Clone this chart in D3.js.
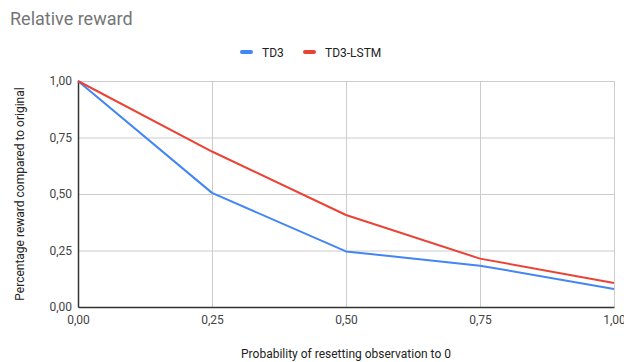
<!DOCTYPE html>
<html lang="en">
<head>
    <meta charset="UTF-8">
    <script src="https://d3js.org/d3.v7.min.js"></script>
    <title>Relative reward</title>
    <style>
      body { margin: 0; background: #fff; }
      text { font-family: Roboto, Arial, sans-serif; }
    </style>
</head>
<body>
    <script>
    // data
    var probs = [0, 0.25, 0.5, 0.75, 1]
    var td3 = [1.00, 0.505, 0.246, 0.183, 0.08]
    var td3lstm = [1.00, 0.688, 0.407, 0.214, 0.106]
    var xTicks = [0, 0.25, 0.5, 0.75, 1]
    var yTicks = [0, 0.25, 0.5, 0.75, 1]
    var seriesNames = ["TD3", "TD3-LSTM"]
    var colors = ["#4285f4", "#ea4335"]

    var width = 624, height = 362
    var margin = { top: 81, right: 10, bottom: 55, left: 78 }

    var svg = d3.select("body").append("svg")
        .attr("width", width)
        .attr("height", height)

    var x = d3.scaleLinear().domain([0, 1]).range([margin.left, 614])
    var y = d3.scaleLinear().domain([0, 1]).range([307, margin.top])

    var fmt = function (d) { return d3.format(".2f")(d).replace(".", ",") }

    // title
    svg.append("text")
        .attr("x", 10).attr("y", 25)
        .attr("font-size", 18)
        .attr("fill", "#757575")
        .text("Relative reward")

    // grid
    svg.append("g").selectAll("line.h")
        .data(yTicks.filter(function (d) { return d > 0 }))
        .enter().append("line")
        .attr("x1", x(0)).attr("x2", x(1))
        .attr("y1", function (d) { return y(d) + 0.5 })
        .attr("y2", function (d) { return y(d) + 0.5 })
        .attr("stroke", "#cccccc")
    svg.append("g").selectAll("line.v")
        .data(xTicks.filter(function (d) { return d > 0 }))
        .enter().append("line")
        .attr("x1", function (d) { return x(d) + 0.5 })
        .attr("x2", function (d) { return x(d) + 0.5 })
        .attr("y1", y(1)).attr("y2", y(0))
        .attr("stroke", "#cccccc")

    // axes
    var xAxis = svg.append("g")
        .attr("transform", "translate(0," + y(0) + ")")
        .call(d3.axisBottom(x).tickValues(xTicks).tickFormat(fmt).tickSize(0).tickPadding(8))
    xAxis.select(".domain").attr("stroke", "#333").attr("stroke-width", 1.5)
    xAxis.selectAll("text").attr("font-size", 12).attr("fill", "#444")

    var yAxis = svg.append("g")
        .attr("transform", "translate(" + x(0) + ",0)")
        .call(d3.axisLeft(y).tickValues(yTicks).tickFormat(fmt).tickSize(0).tickPadding(6))
    yAxis.select(".domain").attr("stroke", "#333").attr("stroke-width", 1.5)
    yAxis.selectAll("text").attr("font-size", 12).attr("fill", "#444")

    // axis titles
    svg.append("text")
        .attr("x", (x(0) + x(1)) / 2).attr("y", 358)
        .attr("text-anchor", "middle")
        .attr("font-size", 12)
        .attr("fill", "#222")
        .text("Probability of resetting observation to 0")

    svg.append("text")
        .attr("transform", "translate(24," + ((y(0) + y(1)) / 2) + ") rotate(-90)")
        .attr("text-anchor", "middle")
        .attr("font-size", 12)
        .attr("fill", "#222")
        .text("Percentage reward compared to original")

    // lines
    var line = d3.line()
        .x(function (d, i) { return x(probs[i]) })
        .y(function (d) { return y(d) })

    ;[td3, td3lstm].forEach(function (s, i) {
        svg.append("path")
            .attr("d", line(s))
            .attr("fill", "none")
            .attr("stroke", colors[i])
            .attr("stroke-width", 2)
            .attr("stroke-linejoin", "round")
    })

    // legend
    var legendX = [240, 303]
    seriesNames.forEach(function (name, i) {
        svg.append("rect")
            .attr("x", legendX[i]).attr("y", 50)
            .attr("width", 13).attr("height", 4)
            .attr("rx", 2)
            .attr("fill", colors[i])
        svg.append("text")
            .attr("x", legendX[i] + 22).attr("y", 56.5)
            .attr("font-size", 12)
            .attr("fill", "#222")
            .text(name)
    })
    </script>
</body>
</html>
